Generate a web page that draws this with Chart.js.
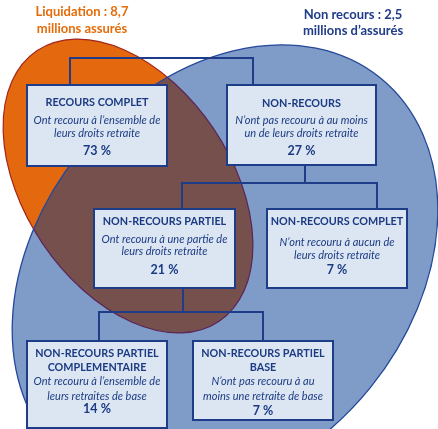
<!DOCTYPE html>
<html><head><meta charset="utf-8">
<script src="https://cdn.jsdelivr.net/npm/chart.js@4.4.1/dist/chart.umd.min.js"></script>
<style>html,body{margin:0;padding:0;background:#fff}#wrap{width:438px;height:429px;position:relative}</style>
</head><body><div id="wrap"><canvas id="c"></canvas></div>
<script>
// ---- data ----
const populationLabels = ["Liquidation : 8,7", "millions assurés", "Non recours : 2,5", "millions d\u2019assurés"];
const nodeTitles = [["RECOURS COMPLET"], ["NON-RECOURS"], ["NON-RECOURS PARTIEL"], ["NON-RECOURS COMPLET"], ["NON-RECOURS PARTIEL", "COMPLEMENTAIRE"], ["NON-RECOURS PARTIEL", "BASE"]];
const nodeDescriptions = [
  ["Ont recouru à l\u2019ensemble de", "leurs droits retraite"],
  ["N\u2019ont pas recouru à au moins", "un de leurs droits retraite"],
  ["Ont recouru à une partie de", "leurs droits retraite"],
  ["N\u2019ont recouru à aucun de", "leurs droits retraite"],
  ["Ont recouru à l\u2019ensemble de", "leurs retraites de base"],
  ["N\u2019ont pas recouru à au", "moins une retraite de base"]
];
const nodeShares = [73, 27, 21, 7, 14, 7];
const nodeParents = [-1, -1, 1, 1, 2, 2];

// ---- layout (pixel units of the scales) ----
const boxRects = [[27,85,167,166],[227,85,376,165],[94,209,235,288],[267,209,407,288],[27,341,167,428],[193,341,333,420]];
const boxAnchors = [70, 253, 182, 377, 99, 263]; // x where connectors enter box tops
const parentOut = {root:[58], 1:[305,183], 2:[183,312]};
const titleLineY = [[103],[104],[222],[222],[354,368],[354,368]];
const descLineY = [[120,133],[120,133],[239,251],[242,255],[381,396],[381,396]];
const shareY = [151,151,270,270,409,411];
const ellipseOrange = {cx:128, cy:186, rx:163, ry:103, rot:56};
const ellipseBlue = {cx:225, cy:270, rx:247, ry:187, rot:-51};

const NAVY = '#1F3C88', TXT = '#1B3A82';

const diagram = {
  id: 'diagram',
  beforeDatasetsDraw(chart) {
    const ctx = chart.ctx, xs = chart.scales.x, ys = chart.scales.y;
    const X = v => xs.getPixelForValue(v), Y = v => ys.getPixelForValue(v);
    const W = v => X(v) - X(0), H = v => Y(v) - Y(0);
    const ePath = e => { ctx.beginPath(); ctx.ellipse(X(e.cx), Y(e.cy), Math.abs(W(e.rx)), Math.abs(H(e.ry)), e.rot*Math.PI/180, 0, Math.PI*2); };
    ctx.save();
    // orange
    ePath(ellipseOrange); ctx.fillStyle = '#E4680D'; ctx.fill(); ctx.lineWidth = 1.2; ctx.strokeStyle = '#A3261C'; ctx.stroke();
    // blue
    ePath(ellipseBlue); ctx.fillStyle = '#7F9BC8'; ctx.fill();
    // overlap
    ctx.save(); ePath(ellipseBlue); ctx.clip();
    ePath(ellipseOrange); ctx.fillStyle = '#76504C'; ctx.fill(); ctx.lineWidth = 1.2; ctx.strokeStyle = '#5B2558'; ctx.stroke();
    ctx.restore();
    ePath(ellipseBlue); ctx.lineWidth = 1.3; ctx.strokeStyle = '#24489A'; ctx.stroke();

    // connectors
    ctx.strokeStyle = NAVY; ctx.lineWidth = 2; ctx.lineCap = 'square';
    const line = pts => { ctx.beginPath(); ctx.moveTo(X(pts[0][0]), Y(pts[0][1])); for (let i=1;i<pts.length;i++) ctx.lineTo(X(pts[i][0]), Y(pts[i][1])); ctx.stroke(); };
    const groups = {};
    nodeParents.forEach((p,i) => { (groups[p] = groups[p] || []).push(i); });
    Object.keys(groups).forEach(p => {
      const kids = groups[p];
      const ax = kids.map(k => boxAnchors[k]);
      let yBar;
      if (+p === -1) { yBar = parentOut.root[0]; }
      else { const o = parentOut[p]; yBar = o[1]; line([[o[0], boxRects[p][3]], [o[0], yBar]]); }
      line([[Math.min(...ax), yBar], [Math.max(...ax), yBar]]);
      kids.forEach(k => line([[boxAnchors[k], yBar], [boxAnchors[k], boxRects[k][1]]]));
    });

    // boxes
    boxRects.forEach((r, i) => {
      const x0 = X(r[0]), y0 = Y(r[1]), x1 = X(r[2]), y1 = Y(r[3]);
      ctx.fillStyle = '#DCE6F3'; ctx.fillRect(x0, y0, x1-x0, y1-y0);
      ctx.strokeStyle = NAVY; ctx.lineWidth = 2; ctx.strokeRect(x0, y0, x1-x0, y1-y0);
      const cx = (x0 + x1) / 2;
      ctx.textAlign = 'center'; ctx.textBaseline = 'middle'; ctx.fillStyle = TXT;
      ctx.font = 'bold 10.8px Lato';
      nodeTitles[i].forEach((t, j) => ctx.fillText(t, cx, Y(titleLineY[i][j])));
      ctx.font = 'italic 11px Lato';
      nodeDescriptions[i].forEach((t, j) => ctx.fillText(t, cx, Y(descLineY[i][j])));
      ctx.font = 'bold 12.5px Lato';
      ctx.fillText(nodeShares[i] + ' %', cx, Y(shareY[i]));
    });

    // population labels
    ctx.font = 'bold 13px Lato'; ctx.textAlign = 'center'; ctx.textBaseline = 'middle';
    ctx.fillStyle = '#E46C0A';
    ctx.fillText(populationLabels[0], X(82), Y(12)); ctx.fillText(populationLabels[1], X(82), Y(29));
    ctx.fillStyle = '#1F3C88';
    ctx.fillText(populationLabels[2], X(353), Y(15)); ctx.fillText(populationLabels[3], X(353), Y(31));
    ctx.restore();
  }
};

new Chart(document.getElementById('c'), {
  type: 'scatter',
  data: { datasets: [{ data: boxRects.map((r,i) => ({x:(r[0]+r[2])/2, y:(r[1]+r[3])/2, v:nodeShares[i]})), pointRadius: 0, pointHoverRadius: 0 }] },
  options: {
    responsive: true, maintainAspectRatio: false, animation: false,
    layout: { padding: 0 },
    plugins: { legend: { display: false }, tooltip: { enabled: false } },
    scales: {
      x: { type: 'linear', min: 0, max: 438, display: false },
      y: { type: 'linear', min: 0, max: 429, reverse: true, display: false }
    }
  },
  plugins: [diagram]
});
</script></body></html>
